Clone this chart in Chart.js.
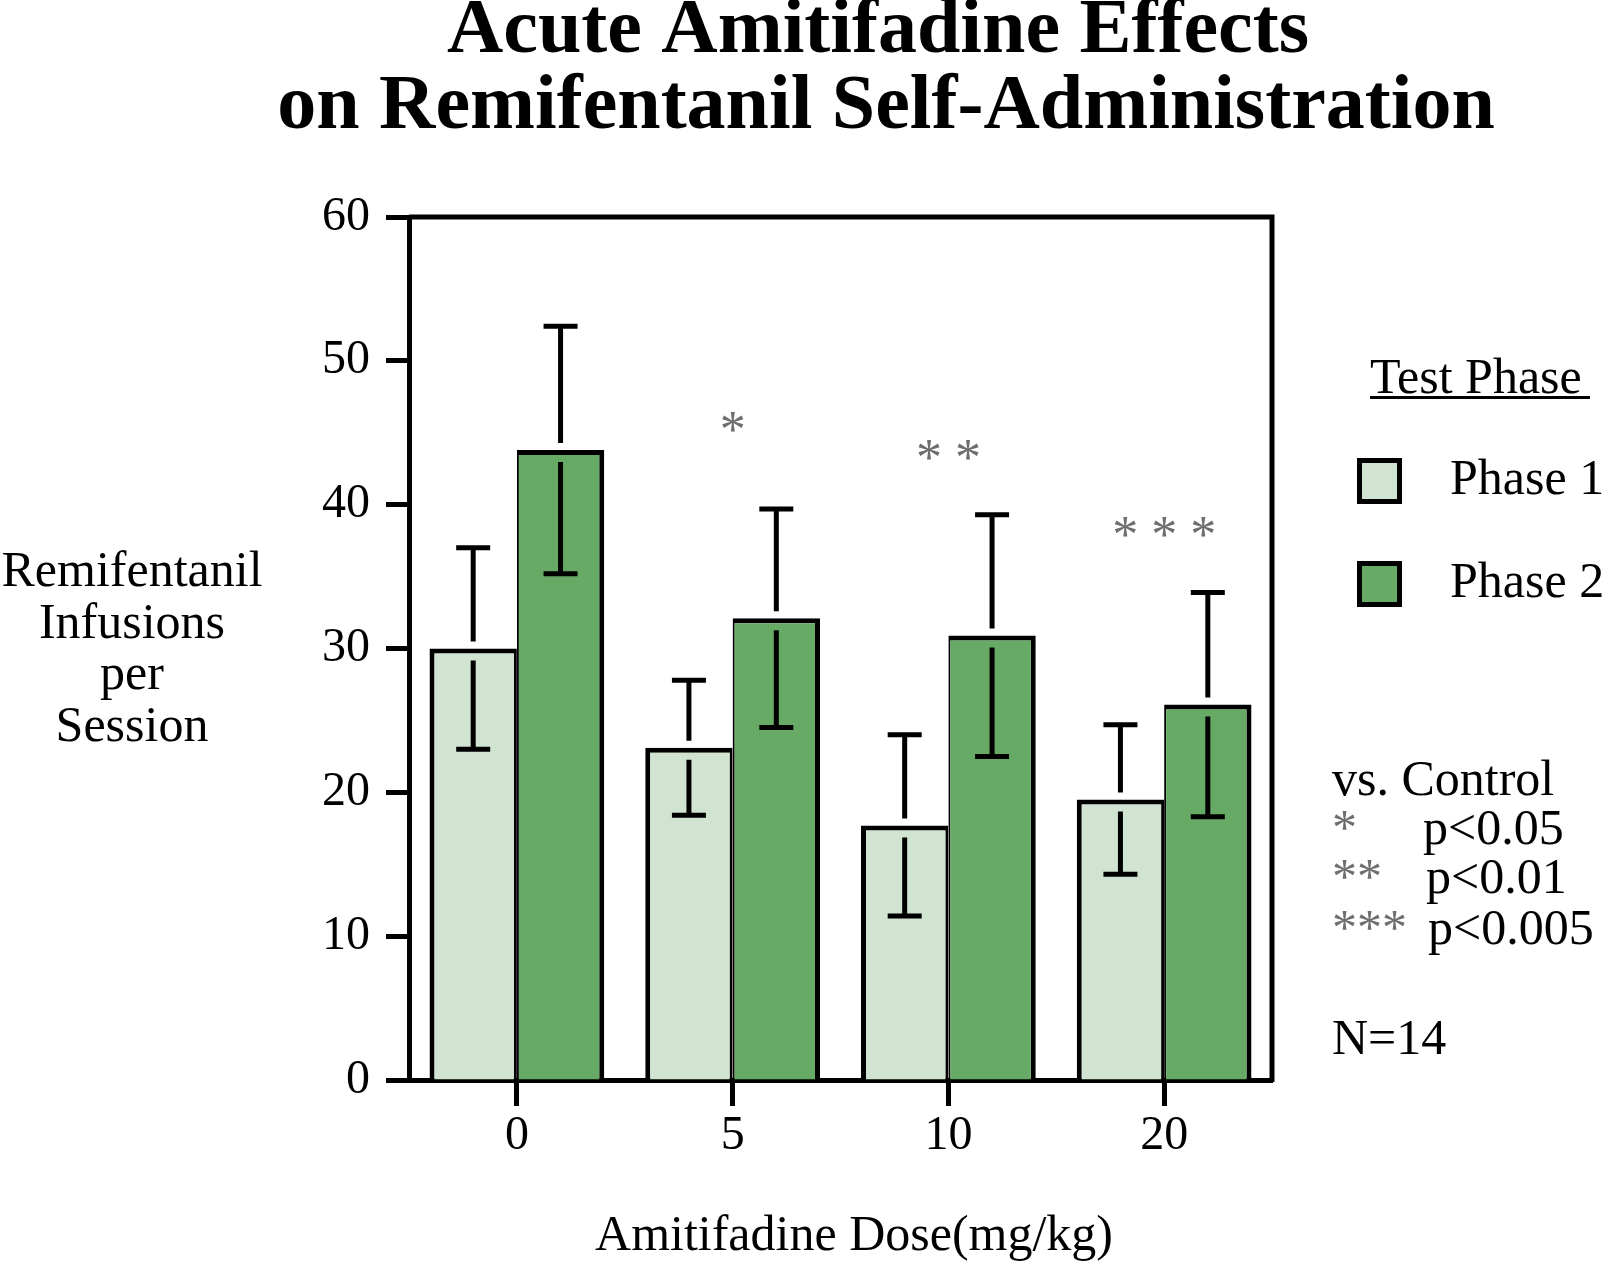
<!DOCTYPE html>
<html>
<head>
<meta charset="utf-8">
<script src="https://cdn.jsdelivr.net/npm/chart.js@4"></script>
<style>
  body { margin: 0; background: #fff; }
</style>
</head>
<body>
<canvas id="chart" width="1613" height="1263"></canvas>
<script>
const doses = ['0', '5', '10', '20'];
const phase1 = [30.0, 23.1, 17.7, 19.5];
const phase2 = [43.8, 32.1, 30.9, 26.1];
const phase1Err = [7.0, 4.7, 6.3, 5.2];
const phase2Err = [8.6, 7.6, 8.4, 7.8];
const sigMarks = ['', '*', '* *', '* * *'];
const sigY = [0, 45.8, 43.9, 38.5];

const serif = '"Liberation Serif", "Times New Roman", serif';
const lightGreen = '#d1e3d1';
const darkGreen = '#66aa66';

// error bars, with the little break where they cross the bar top
const errorBars = {
  id: 'errorBars',
  afterDatasetsDraw(chart) {
    const ctx = chart.ctx;
    const y = chart.scales.y;
    const errs = [phase1Err, phase2Err];
    ctx.save();
    ctx.strokeStyle = '#000';
    ctx.lineWidth = 5;
    chart.data.datasets.forEach((ds, di) => {
      chart.getDatasetMeta(di).data.forEach((bar, i) => {
        const v = ds.data[i];
        const hi = y.getPixelForValue(v + errs[di][i]);
        const lo = y.getPixelForValue(v - errs[di][i]);
        const top = bar.y;
        const x = bar.x;
        ctx.beginPath();
        ctx.moveTo(x, hi);
        ctx.lineTo(x, top - 7);
        ctx.moveTo(x, top + 12);
        ctx.lineTo(x, lo);
        ctx.moveTo(x - 17, hi);
        ctx.lineTo(x + 17, hi);
        ctx.moveTo(x - 17, lo);
        ctx.lineTo(x + 17, lo);
        ctx.stroke();
      });
    });
    ctx.restore();
  }
};

const extras = {
  id: 'extras',
  afterDraw(chart) {
    const ctx = chart.ctx;
    const a = chart.chartArea;
    const x = chart.scales.x;
    const y = chart.scales.y;
    ctx.save();

    // box top + right
    ctx.strokeStyle = '#000';
    ctx.lineWidth = 5;
    ctx.beginPath();
    ctx.moveTo(a.left, a.top);
    ctx.lineTo(a.right, a.top);
    ctx.lineTo(a.right, a.bottom + 2);
    ctx.stroke();

    // significance stars
    ctx.fillStyle = '#6e6e6e';
    ctx.font = '52px ' + serif;
    ctx.textAlign = 'center';
    ctx.textBaseline = 'alphabetic';
    sigMarks.forEach((s, i) => {
      if (!s) return;
      ctx.fillText(s, x.getPixelForValue(i), y.getPixelForValue(sigY[i]) + 26);
    });

    // title
    ctx.fillStyle = '#000';
    ctx.font = 'bold 78px ' + serif;
    ctx.fillText('Acute Amitifadine Effects', 878, 52);
    ctx.fillText('on Remifentanil Self-Administration', 886, 128);

    // y axis label
    ctx.font = '50px ' + serif;
    ['Remifentanil', 'Infusions', 'per', 'Session'].forEach((t, i) => {
      ctx.fillText(t, 132, 586 + i * 51.7);
    });

    // x axis title
    ctx.fillText('Amitifadine Dose(mg/kg)', 854, 1250);

    // legend
    ctx.textAlign = 'left';
    ctx.fillText('Test Phase', 1370, 393);
    ctx.fillRect(1370, 396, 220, 3);
    [[lightGreen, 'Phase 1', 458], [darkGreen, 'Phase 2', 561]].forEach(([c, t, top]) => {
      ctx.fillStyle = c;
      ctx.fillRect(1359, top + 2, 40, 42);
      ctx.strokeStyle = '#000';
      ctx.lineWidth = 5;
      ctx.strokeRect(1359.5, top + 2.5, 40, 41);
      ctx.fillStyle = '#000';
      ctx.fillText(t, 1450, top + 36);
    });

    // stats notes
    ctx.fillText('vs. Control', 1332, 795);
    const notes = [['*', 'p<0.05', 844, 1423], ['**', 'p<0.01', 893, 1426], ['***', 'p<0.005', 944, 1428]];
    notes.forEach(([s, p, base, px]) => {
      ctx.fillStyle = '#6e6e6e';
      ctx.fillText(s, 1332, base);
      ctx.fillStyle = '#000';
      ctx.fillText(p, px, base);
    });
    ctx.fillText('N=14', 1332, 1054);

    ctx.restore();
  }
};

new Chart(document.getElementById('chart'), {
  type: 'bar',
  data: {
    labels: doses,
    datasets: [{
      label: 'Phase 1',
      data: phase1,
      backgroundColor: lightGreen,
      borderColor: '#000',
      borderWidth: { top: 5, left: 5, right: 3, bottom: 0 },
      borderSkipped: false
    }, {
      label: 'Phase 2',
      data: phase2,
      backgroundColor: darkGreen,
      borderColor: '#000',
      borderWidth: { top: 5, left: 2, right: 5, bottom: 0 },
      borderSkipped: false
    }]
  },
  options: {
    responsive: false,
    devicePixelRatio: 1,
    animation: false,
    categoryPercentage: 0.81,
    barPercentage: 1.0,
    layout: { padding: { top: 217, right: 341, left: 0, bottom: 0 } },
    plugins: {
      legend: { display: false },
      title: { display: false },
      tooltip: { enabled: false }
    },
    scales: {
      x: {
        afterFit: (s) => { s.height = 183; },
        grid: {
          offset: false,
          drawOnChartArea: false,
          drawTicks: true,
          tickLength: 26,
          tickWidth: 5,
          tickColor: '#000'
        },
        border: { color: '#000', width: 5 },
        ticks: {
          color: '#000',
          padding: 2,
          font: { family: serif, size: 48 }
        }
      },
      y: {
        min: 0,
        max: 60,
        afterFit: (s) => { s.width = 409; },
        grid: {
          drawOnChartArea: false,
          drawTicks: true,
          tickLength: 23,
          tickWidth: 5,
          tickColor: '#000'
        },
        border: { color: '#000', width: 5 },
        ticks: {
          stepSize: 10,
          color: '#000',
          padding: 16,
          font: { family: serif, size: 48 }
        }
      }
    }
  },
  plugins: [errorBars, extras]
});
</script>
</body>
</html>
